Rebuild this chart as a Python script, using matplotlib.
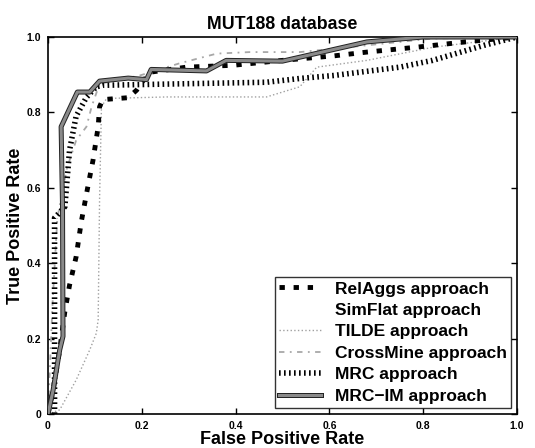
import matplotlib
matplotlib.use("Agg")
import matplotlib.pyplot as plt
import matplotlib.patheffects as pe

plt.rcParams['font.family'] = ['Liberation Sans', 'DejaVu Sans']

relaggs_fpr = [0, 0.011, 0.025, 0.036, 0.046, 0.06, 0.071, 0.085, 0.096, 0.107, 0.11, 0.117, 0.171, 0.189, 0.2, 0.22, 0.295, 0.395, 0.5, 0.61, 0.68, 0.786, 0.89, 1.0]
relaggs_tpr = [0, 0.064, 0.17, 0.272, 0.342, 0.417, 0.51, 0.603, 0.673, 0.762, 0.815, 0.834, 0.839, 0.859, 0.88, 0.907, 0.92, 0.925, 0.938, 0.95, 0.96, 0.973, 0.987, 1.0]

simflat_fpr = [0, 0.03, 0.1, 0.3, 0.6, 1.0]
simflat_tpr = [0, 0.5, 0.85, 0.9, 0.95, 1.0]

tilde_fpr = [0, 0.025, 0.06, 0.089, 0.103, 0.107, 0.11, 0.114, 0.125, 0.253, 0.466, 0.537, 0.573, 0.68, 0.822, 1.0]
tilde_tpr = [0, 0.011, 0.09, 0.17, 0.214, 0.25, 0.57, 0.815, 0.837, 0.841, 0.841, 0.868, 0.92, 0.938, 0.973, 1.0]

crossmine_fpr = [0, 0.01, 0.02, 0.04, 0.06, 0.082, 0.093, 0.11, 0.196, 0.28, 0.36, 0.43, 0.537, 0.61, 0.82, 1.0]
crossmine_tpr = [0, 0.3, 0.52, 0.65, 0.726, 0.762, 0.815, 0.876, 0.898, 0.93, 0.956, 0.96, 0.96, 0.969, 0.996, 1.0]

mrc_fpr = [0.014, 0.014, 0.036, 0.046, 0.06, 0.082, 0.103, 0.117, 0.466, 0.537, 0.61, 0.75, 0.82, 0.93, 1.0]
mrc_tpr = [0, 0.52, 0.55, 0.70, 0.79, 0.84, 0.868, 0.872, 0.88, 0.89, 0.898, 0.92, 0.938, 0.978, 1.0]

mrcim_fpr = [0, 0.011, 0.025, 0.032, 0.031, 0.028, 0.0626, 0.089, 0.11, 0.171, 0.21, 0.22, 0.338, 0.38, 0.5, 0.68, 0.8, 1.0]
mrcim_tpr = [0, 0.064, 0.17, 0.206, 0.55, 0.762, 0.854, 0.854, 0.883, 0.891, 0.887, 0.914, 0.91, 0.938, 0.936, 0.987, 1.0, 1.0]

labels = ["RelAggs approach", "SimFlat approach", "TILDE approach",
          "CrossMine approach", "MRC approach", "MRC\u2212IM approach"]
xticks = [0, 0.2, 0.4, 0.6, 0.8, 1.0]
xticklabels = ["0", "0.2", "0.4", "0.6", "0.8", "1.0"]

fig = plt.figure(figsize=(5.35, 4.48), dpi=100)
ax = fig.add_axes([0.0897, 0.0759, 0.8766, 0.8415])

ax.plot(relaggs_fpr, relaggs_tpr, color='black', lw=3.5, dashes=(1.1, 1.8), label=labels[0], zorder=4)
ax.plot(simflat_fpr, simflat_tpr, color='white', lw=1.0, label=labels[1], zorder=1)
ax.plot(tilde_fpr, tilde_tpr, color='#a0a0a0', lw=1.0, linestyle=':', label=labels[2], zorder=2)
ax.plot(crossmine_fpr, crossmine_tpr, color='#a8a8a8', lw=1.3, dashes=(3, 3, 1, 3), label=labels[3], zorder=2)
ax.plot(mrc_fpr, mrc_tpr, color='black', lw=4, dashes=(0.3, 0.6), label=labels[4], zorder=3)
ax.plot(mrcim_fpr, mrcim_tpr, color='#8a8a8a', lw=2.2, label=labels[5], zorder=5,
        path_effects=[pe.Stroke(linewidth=3.6, foreground='#222222'), pe.Normal()])

ax.set_xlim(0, 1)
ax.set_ylim(0, 1)
ax.set_xticks(xticks)
ax.set_xticklabels(xticklabels)
ax.set_yticks(xticks)
ax.set_yticklabels(xticklabels)
ax.tick_params(direction='in', top=True, right=True, length=4, width=1, labelsize=7.5, pad=5)
for lab in ax.get_xticklabels() + ax.get_yticklabels():
    lab.set_fontweight('bold')
for s in ax.spines.values():
    s.set_linewidth(1.2)

ax.set_title("MUT188 database", fontsize=12.8, fontweight='bold', pad=6)
ax.set_xlabel("False Positive Rate", fontsize=13, fontweight='bold', labelpad=0)
ax.set_ylabel("True Positive Rate", fontsize=13, fontweight='bold', labelpad=2)

leg = ax.legend(loc='lower right', prop={'size': 12.5, 'weight': 'bold'}, frameon=True,
                fancybox=False, edgecolor='black', borderpad=0.25, labelspacing=0.36,
                handlelength=2.4, handletextpad=0.8, borderaxespad=0.35)
leg.get_frame().set_linewidth(1.0)

fig.savefig("out.png", dpi=100)
